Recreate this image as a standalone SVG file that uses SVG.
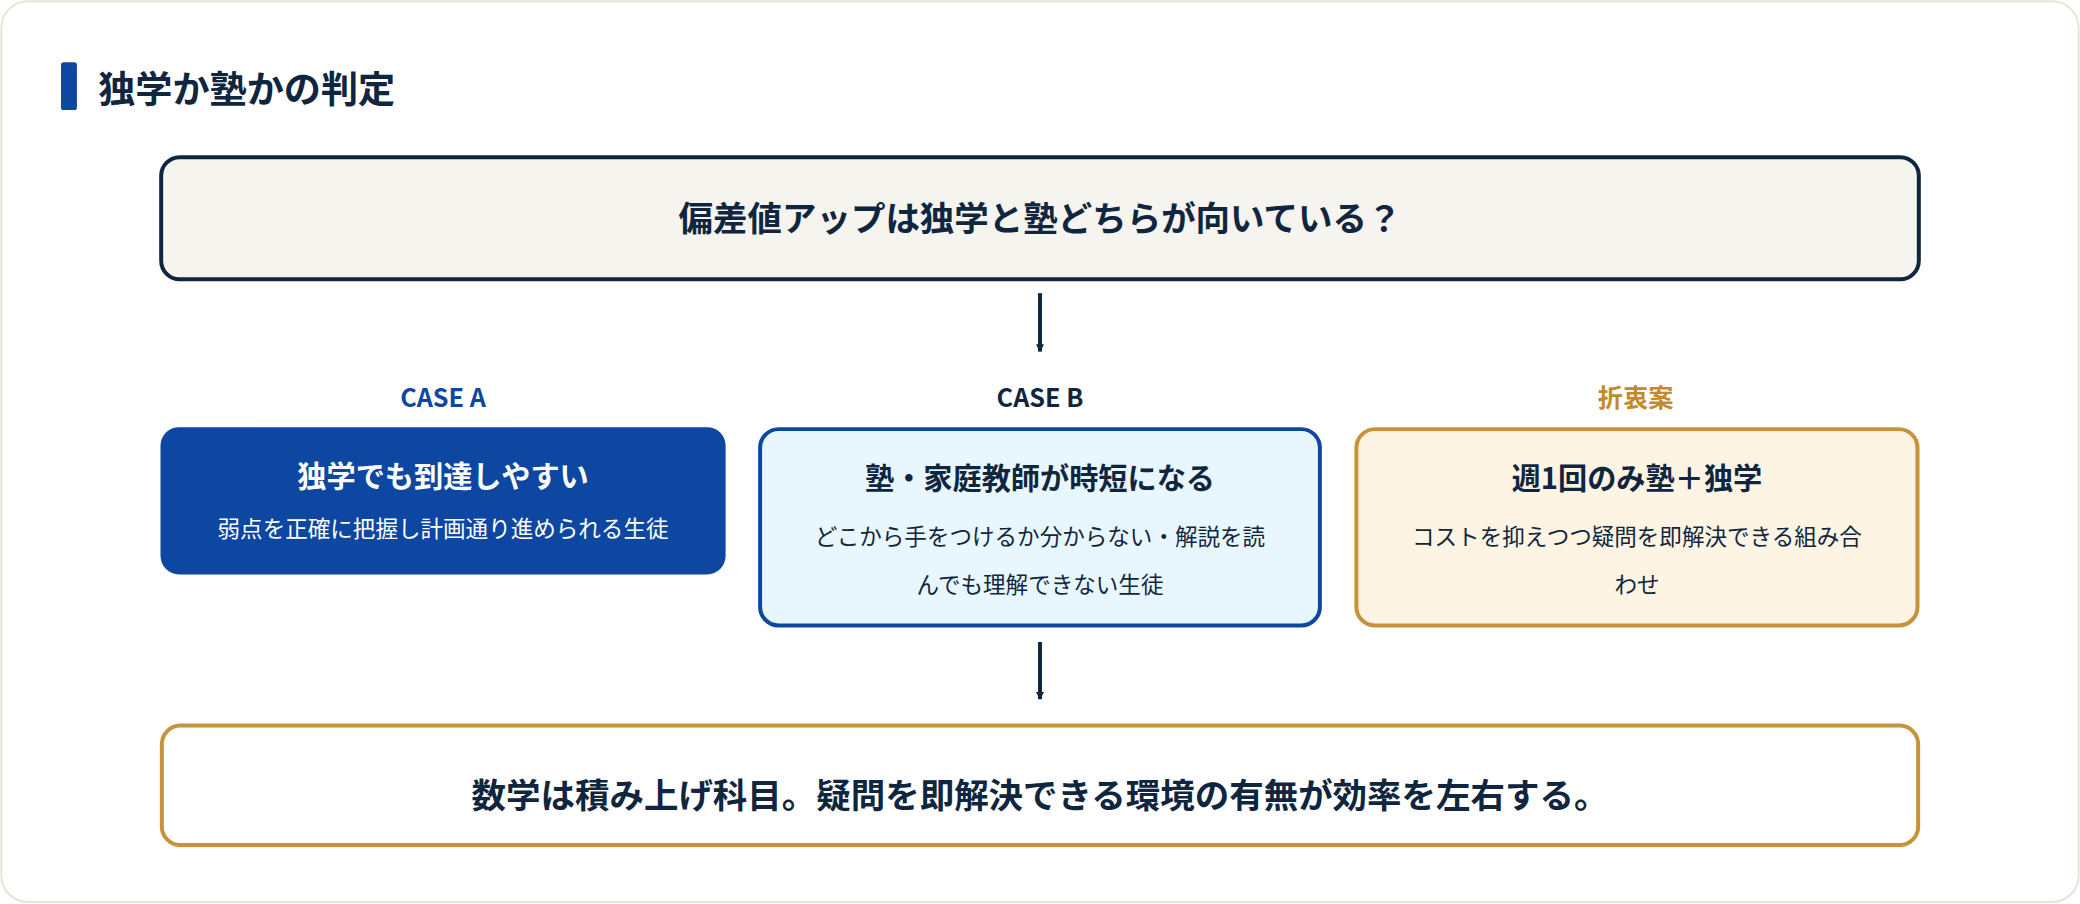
<svg xmlns="http://www.w3.org/2000/svg" width="2080" height="904" viewBox="0 0 2080 904">
<style>
text{font-family:"Noto Sans CJK JP","Noto Sans",sans-serif;text-anchor:middle;fill:#10263f}
.b{font-weight:700}
.h{font-size:26px;font-weight:700}
.t{font-size:22px;font-weight:700}
.s{font-size:17px}
.lab{font-size:19px;font-weight:700}
.conn{stroke:#10263f;stroke-width:3;fill:none}
</style>
<defs><marker id="ar" viewBox="0 0 10 10" refX="9" refY="5" markerWidth="7" markerHeight="6" markerUnits="userSpaceOnUse" orient="auto"><path d="M0,0L10,5L0,10z" fill="#10263f"/></marker>
<marker id="arr" viewBox="0 0 20 20" refX="20" refY="10" markerWidth="21" markerHeight="22" markerUnits="userSpaceOnUse" orient="auto"><path d="M0,0L20,10L0,20z" fill="#10263f"/></marker></defs>
<g transform="scale(1.32653)">
<rect x="1" y="1" width="1566" height="679" rx="20" fill="#fff" stroke="#e6e4d8" stroke-width="1.5"/>
<g id="title"><rect x="46" y="47" width="12" height="36" rx="2" fill="#0d47a1"/>
<text x="74" y="78" style="text-anchor:start;font-size:28px" class="b">独学か塾かの判定</text></g>
<g id="question"><rect x="121.5" y="118.5" width="1325" height="92" rx="14" fill="#f5f4ef" stroke="#10263f" stroke-width="3"/>
<text x="784" y="174" class="h">偏差値アップは独学と塾どちらが向いている？</text></g>
<g id="caseA"><text x="334" y="307" class="lab" style="fill:#0d47a1">CASE A</text>
<rect x="121" y="322" width="426" height="111" rx="14" fill="#0d47a1"/>
<text x="334" y="367" class="t" style="fill:#fff">独学でも到達しやすい</text>
<text x="334" y="405" class="s" style="fill:#fff">弱点を正確に把握し計画通り進められる生徒</text></g>
<g id="caseB"><text x="784" y="307" class="lab">CASE B</text>
<rect x="573" y="323.5" width="422" height="148" rx="14" fill="#e8f6fd" stroke="#0d47a1" stroke-width="3"/>
<text x="784" y="369" class="t">塾・家庭教師が時短になる</text>
<text x="784" y="411" class="s">どこから手をつけるか分からない・解説を読</text>
<text x="784" y="447" class="s">んでも理解できない生徒</text></g>
<g id="compromise"><text x="1233" y="307" class="lab" style="fill:#c48a2a">折衷案</text>
<rect x="1022.5" y="323.5" width="423" height="148" rx="14" fill="#fdf4e3" stroke="#c8923a" stroke-width="3"/>
<text x="1234" y="369" class="t">週1回のみ塾＋独学</text>
<text x="1234" y="411" class="s">コストを抑えつつ疑問を即解決できる組み合</text>
<text x="1234" y="447" class="s">わせ</text></g>
<g id="conclusion"><rect x="122" y="547" width="1324" height="90" rx="14" fill="#fff" stroke="#c8923a" stroke-width="3"/>
<text x="784" y="609" class="h">数学は積み上げ科目。疑問を即解決できる環境の有無が効率を左右する。</text></g>
<g id="connectors">
<path class="conn" d="M784,221V265" marker-end="url(#ar)"/>
<path class="conn" d="M784,484V527" marker-end="url(#ar)"/>
</g>
</g>
</svg>
